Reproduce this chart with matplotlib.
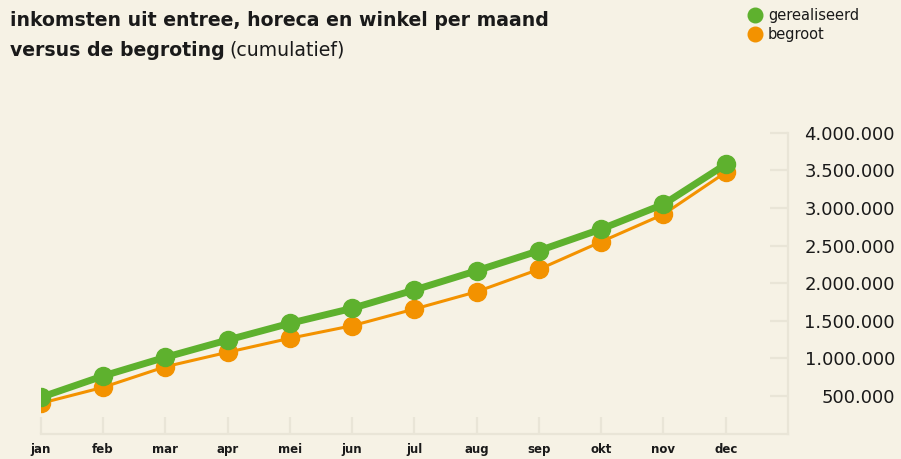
import matplotlib.pyplot as plt
from matplotlib.lines import Line2D
from matplotlib.ticker import FuncFormatter

# maanden en cumulatieve inkomsten (euro)
maanden = ['jan', 'feb', 'mar', 'apr', 'mei', 'jun', 'jul', 'aug', 'sep', 'okt', 'nov', 'dec']
gerealiseerd = [482000, 766000, 1014000, 1244000, 1466000, 1665000,
                1909000, 2165000, 2431000, 2719000, 3048000, 3579000]
begroot = [403000, 615000, 889000, 1081000, 1267000, 1434000,
           1656000, 1886000, 2184000, 2551000, 2915000, 3473000]
y_ticks = [500000, 1000000, 1500000, 2000000, 2500000, 3000000, 3500000, 4000000]

BG = '#f6f2e5'
GROEN = '#5eb12e'
ORANJE = '#f39200'
AS = '#e9e5d7'
TEKST = '#1a1a1a'

fig = plt.figure(figsize=(9.01, 4.59), dpi=100, facecolor=BG)
ax = fig.add_axes([0.0452, 0.0553, 0.8294, 0.6556], facecolor=BG)

x = list(range(len(maanden)))
ax.plot(x, begroot, color=ORANJE, lw=2.2, marker='o', ms=13, zorder=2)
ax.plot(x, gerealiseerd, color=GROEN, lw=5, marker='o', ms=13, zorder=3)

ax.set_xlim(0, 12)
ax.set_ylim(0, 4000000)

for s in ['top', 'left']:
    ax.spines[s].set_visible(False)
for s in ['bottom', 'right']:
    ax.spines[s].set_color(AS)
    ax.spines[s].set_linewidth(1.6)

ax.set_xticks(x)
ax.set_xticklabels(maanden, fontsize=8.5, fontweight='bold', color=TEKST)
ax.tick_params(axis='x', direction='in', length=12, width=1.6, color=AS, pad=7)

ax.yaxis.tick_right()
ax.set_yticks(y_ticks)
ax.yaxis.set_major_formatter(FuncFormatter(lambda v, p: f'{int(v):,}'.replace(',', '.')))
ax.tick_params(axis='y', direction='in', length=13, width=1.6, color=AS, pad=77,
               labelsize=13, labelcolor=TEKST)
for lbl in ax.get_yticklabels():
    lbl.set_horizontalalignment('right')

# titel
fig.text(10 / 901, 1 - 26 / 459, 'inkomsten uit entree, horeca en winkel per maand',
         fontsize=13.6, fontweight='bold', color=TEKST)
t2 = fig.text(10 / 901, 1 - 56 / 459, 'versus de begroting',
              fontsize=13.6, fontweight='bold', color=TEKST)
fig.canvas.draw()
bb = t2.get_window_extent()
fig.text(bb.x1 / 901 + 5 / 901, 1 - 56 / 459, '(cumulatief)', fontsize=13.6, color=TEKST)

# legenda
handles = [Line2D([], [], ls='none', marker='o', ms=10.5, color=GROEN, label='gerealiseerd'),
           Line2D([], [], ls='none', marker='o', ms=10.5, color=ORANJE, label='begroot')]
fig.legend(handles=handles, loc='upper left', bbox_to_anchor=(749 / 901, 1 - 8 / 459),
           frameon=False, fontsize=10.5, handlelength=0.8, handletextpad=0.5,
           labelspacing=0.3, borderaxespad=0, borderpad=0, labelcolor=TEKST)

fig.savefig('out.png', dpi=100, facecolor=BG)
